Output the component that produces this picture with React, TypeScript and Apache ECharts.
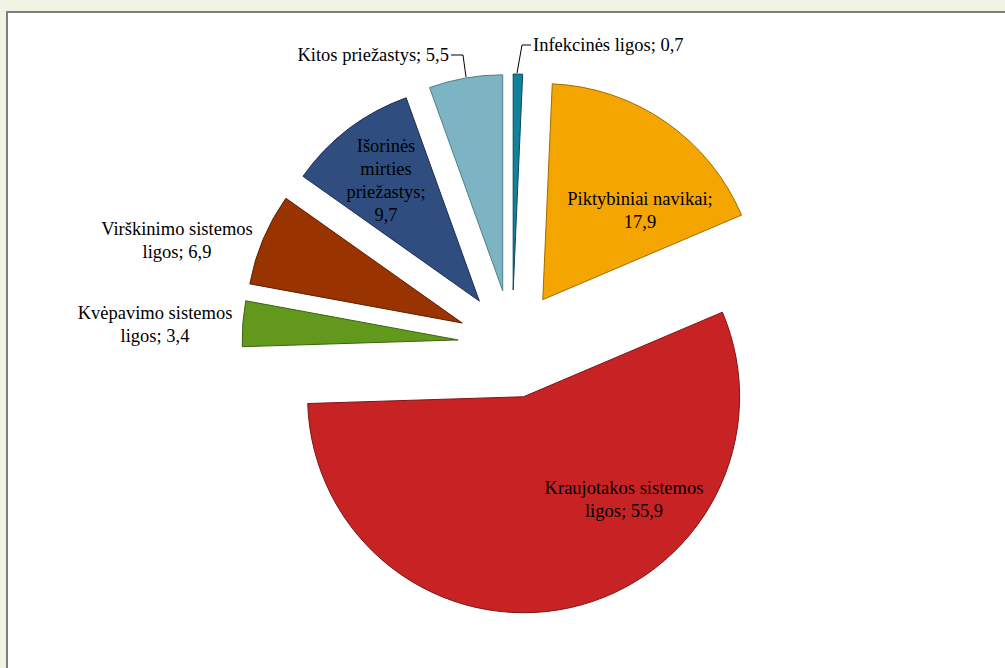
import React, { useEffect, useRef } from "react";
import * as echarts from "echarts";

const categories = [
  "Infekcinės ligos",
  "Piktybiniai navikai",
  "Kraujotakos sistemos ligos",
  "Kvėpavimo sistemos ligos",
  "Virškinimo sistemos ligos",
  "Išorinės mirties priežastys",
  "Kitos priežastys",
];
const values = [0.7, 17.9, 55.9, 3.4, 6.9, 9.7, 5.5];
const colors = ["#14819a", "#f5a500", "#c82324", "#62991c", "#993300", "#2f4e7f", "#7cb4c4"];
const borderColors = ["#0b4a5a", "#a06c00", "#7e1414", "#3b6410", "#5e1f00", "#1b2f50", "#4f7f8c"];
// words per label line
const lineWords = [[3], [2, 1], [2, 2], [2, 2], [2, 2], [1, 1, 1, 1], [3]];

// layout (positions, not data)
const CENTER = [512, 344];
const RADIUS = 216;
const EXPLODE = 54;
const labelPos: any[] = [
  { x: 533, y: 45, align: "left", line: [[517, 73], [522, 45], [531, 45]] },
  { x: 640, y: 210, align: "center" },
  { x: 624, y: 499, align: "center" },
  { x: 155, y: 324, align: "center" },
  { x: 177, y: 240, align: "center" },
  { x: 386, y: 180, align: "center" },
  { x: 449, y: 55, align: "right", line: [[466, 77], [463, 55], [451, 55]] },
];

function fmtLabel(name: string, value: number, idx: number) {
  const words = `${name}; ${String(value).replace(".", ",")}`.split(" ");
  const lines: string[] = [];
  let k = 0;
  for (const n of lineWords[idx]) {
    lines.push(words.slice(k, k + n).join(" "));
    k += n;
  }
  if (k < words.length) lines.push(words.slice(k).join(" "));
  return lines.join("\n");
}

export default function App() {
  const ref = useRef<HTMLDivElement>(null);
  useEffect(() => {
    if (!ref.current) return;
    const chart = echarts.init(ref.current, undefined, { renderer: "svg" });
    const total = values.reduce((a, b) => a + b, 0);
    let cum = 0;
    const series = categories.map((_, i) => {
      const mid = ((cum + values[i] / 2) / total) * Math.PI * 2;
      cum += values[i];
      const cx = CENTER[0] + EXPLODE * Math.sin(mid);
      const cy = CENTER[1] - EXPLODE * Math.cos(mid);
      const hasLine = !!labelPos[i].line;
      return {
        type: "pie",
        center: [cx, cy],
        radius: RADIUS,
        startAngle: 90,
        clockwise: true,
        avoidLabelOverlap: false,
        silent: true,
        emphasis: { disabled: true },
        label: {
          show: false,
          color: "#000",
          fontFamily: "Liberation Serif",
          fontSize: 18.5,
          lineHeight: 23,
          align: "center",
          formatter: (p: any) => fmtLabel(p.name, p.value, p.dataIndex),
        },
        labelLine: { show: false, lineStyle: { color: "#000", width: 1 } },
        labelLayout: (params: any) => {
          if (params.dataIndex !== i) return {};
          const p = labelPos[i];
          const r: any = { x: p.x, y: p.y, align: p.align, verticalAlign: "middle" };
          if (p.line) r.labelLinePoints = p.line;
          return r;
        },
        data: categories.map((name, j) =>
          j === i
            ? {
                name,
                value: values[j],
                itemStyle: { color: colors[j], borderColor: borderColors[j], borderWidth: 1 },
                label: { show: true, position: hasLine || j === 3 || j === 4 ? "outside" : "inside" },
                labelLine: { show: hasLine },
              }
            : {
                name,
                value: values[j],
                itemStyle: { color: "rgba(0,0,0,0)", borderWidth: 0 },
                label: { show: false },
                labelLine: { show: false },
              }
        ),
      };
    });
    chart.setOption({ animation: false, series });
    return () => chart.dispose();
  }, []);
  return (
    <div
      style={{
        position: "fixed",
        left: 0,
        top: 0,
        width: 1005,
        height: 668,
        background: "#f1f4e4",
        overflow: "hidden",
      }}
    >
      <div
        style={{
          position: "absolute",
          left: 6,
          top: 11,
          width: 1100,
          height: 800,
          background: "#ffffff",
          borderLeft: "2px solid #7f7f7f",
          borderTop: "2px solid #7f7f7f",
        }}
      />
      <div ref={ref} style={{ position: "absolute", left: 0, top: 0, width: 1005, height: 668 }} />
    </div>
  );
}
